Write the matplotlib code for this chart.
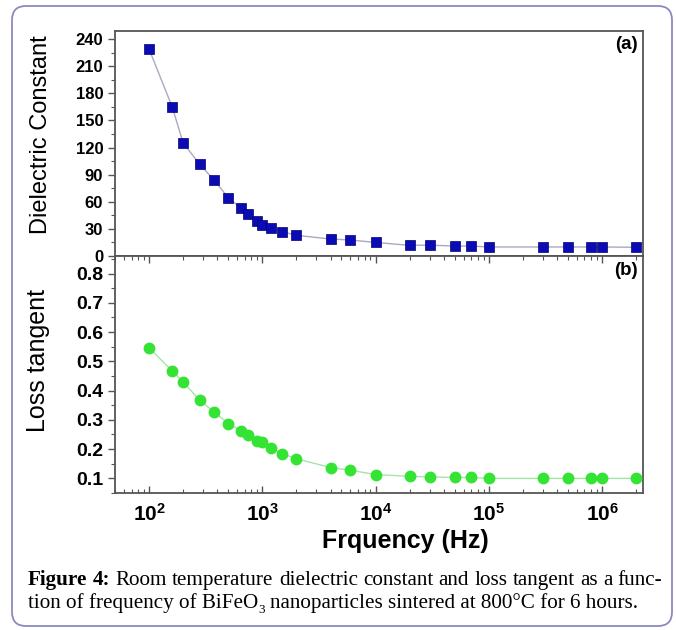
import numpy as np
import matplotlib
matplotlib.use('Agg')
import matplotlib.pyplot as plt
from matplotlib.patches import FancyBboxPatch
from matplotlib.transforms import IdentityTransform
from matplotlib.ticker import MultipleLocator, LogLocator, FuncFormatter, NullFormatter

plt.rcParams['font.family'] = ['Liberation Sans', 'DejaVu Sans']
plt.rcParams['mathtext.fontset'] = 'custom'
plt.rcParams['mathtext.rm'] = 'Liberation Sans'
plt.rcParams['mathtext.bf'] = 'Liberation Sans:bold'

# frequency (Hz)
freq = [100, 160, 200, 280, 375, 500, 650, 750, 900, 1000, 1200, 1500, 2000,
        4000, 6000, 1e4, 2e4, 3e4, 5e4, 7e4, 1e5, 3e5, 5e5, 8e5, 1e6, 2e6]
# dielectric constant
eps = [229, 165, 125, 101.5, 84, 64.6, 52.8, 46, 38.7, 34, 30.6, 26.9, 22.9,
       18.8, 17.7, 15, 11.8, 12, 11, 11, 10, 10, 10, 10, 10, 9.6]
# loss tangent
tan_d = [0.546, 0.467, 0.429, 0.367, 0.327, 0.287, 0.263, 0.247, 0.229, 0.223,
         0.203, 0.184, 0.167, 0.137, 0.128, 0.113, 0.107, 0.105, 0.103, 0.103,
         0.100, 0.100, 0.100, 0.100, 0.100, 0.100]

W, H = 676, 630
fig = plt.figure(figsize=(W / 100, H / 100), dpi=100)


def box(x0, y0, x1, y1):
    return [x0 / W, 1 - y1 / H, (x1 - x0) / W, (y1 - y0) / H]


# outer rounded frame
frame = FancyBboxPatch((12, H - 626), 660, 620, boxstyle='round,pad=0,rounding_size=14',
                       transform=IdentityTransform(), ec='#8a8abf', fc='none', lw=1.3)
fig.add_artist(frame)

ax1 = fig.add_axes(box(115, 31, 643, 256))
ax2 = fig.add_axes(box(115, 256, 643, 493))

spine_c = '#555555'
for ax in (ax1, ax2):
    ax.set_xscale('log')
    ax.set_xlim(50, 2.3e6)
    ax.xaxis.set_major_locator(LogLocator(base=10, numticks=10))
    ax.xaxis.set_minor_locator(LogLocator(base=10, subs=np.arange(2, 10), numticks=30))
    ax.xaxis.set_minor_formatter(NullFormatter())
    for s in ax.spines.values():
        s.set_color(spine_c)
        s.set_linewidth(1.3)
    ax.tick_params(axis='y', which='major', direction='out', length=5, width=1, color=spine_c)
    ax.tick_params(axis='y', which='minor', direction='out', length=3, width=0.8, color=spine_c)

ax1.tick_params(axis='x', which='both', bottom=False, labelbottom=False)
ax2.tick_params(axis='x', which='major', direction='in', top=True, bottom=True,
                length=5, width=1, color=spine_c, pad=7, labelsize=15)
ax2.tick_params(axis='x', which='minor', direction='in', top=True, bottom=True,
                length=3, width=0.8, color=spine_c)
ax2.xaxis.set_major_formatter(FuncFormatter(lambda v, p: r'$\mathbf{10^{%d}}$' % round(np.log10(v))))

ax1.set_ylim(0, 249)
ax1.yaxis.set_major_locator(MultipleLocator(30))
ax1.yaxis.set_minor_locator(MultipleLocator(15))
ax1.yaxis.set_major_formatter(FuncFormatter(lambda v, p: '%d' % v))
ax1.tick_params(axis='y', labelsize=12)

ax2.set_ylim(0.05, 0.86)
ax2.yaxis.set_major_locator(MultipleLocator(0.1))
ax2.yaxis.set_minor_locator(MultipleLocator(0.05))
ax2.yaxis.set_major_formatter(FuncFormatter(lambda v, p: '%.1f' % v))
ax2.tick_params(axis='y', labelsize=14)

for ax in (ax1, ax2):
    for lab in ax.get_yticklabels():
        lab.set_fontweight('bold')

ax1.plot(freq, eps, '-', color='#a9a9c4', lw=1, zorder=2)
ax1.plot(freq, eps, 's', color='#0b0bb5', ms=6.5, mec='#00006e', mew=0.5, zorder=3)
ax2.plot(freq, tan_d, '-', color='#a6e4a6', lw=1, zorder=2)
ax2.plot(freq, tan_d, 'o', color='#34e334', ms=7.5, mec='#34e334', zorder=3)

ax1.text(0.99, 0.94, '(a)', transform=ax1.transAxes, ha='right', va='center',
         fontsize=13.5, fontweight='bold')
ax2.text(0.99, 0.94, '(b)', transform=ax2.transAxes, ha='right', va='center',
         fontsize=13.5, fontweight='bold')

fig.text(41 / W, 1 - 135 / H, 'Dielectric Constant', rotation=90, ha='center', va='center', fontsize=17)
fig.text(38 / W, 1 - 360 / H, 'Loss tangent', rotation=90, ha='center', va='center', fontsize=18)
fig.text(405 / W, 1 - 541 / H, 'Frquency (Hz)', ha='center', va='center', fontsize=18, fontweight='bold')

# caption, first line justified between x=28 and x=662
serif = ['Liberation Serif', 'DejaVu Serif']
cap_fs = 15.2
fig.canvas.draw()
rend = fig.canvas.get_renderer()

line1 = [('Figure', 'bold'), ('4:', 'bold')] + [(w, 'normal') for w in
         'Room temperature dielectric constant and loss tangent as a func-'.split()]
objs = [fig.text(0, 0, w, family=serif, fontsize=cap_fs, fontweight=wt, va='baseline')
        for w, wt in line1]
widths = [o.get_window_extent(renderer=rend).width for o in objs]
gap = (662 - 28 - sum(widths)) / (len(objs) - 1)
x = 28
for o, wd in zip(objs, widths):
    o.set_position((x / W, 1 - 585 / H))
    x += wd + gap

sp = fig.text(0, 0, 'a a', family=serif, fontsize=cap_fs)
sp2 = fig.text(0, 0, 'aa', family=serif, fontsize=cap_fs)
space_w = sp.get_window_extent(renderer=rend).width - sp2.get_window_extent(renderer=rend).width
sp.remove()
sp2.remove()

y2 = 1 - 608 / H
t_a = fig.text(28 / W, y2, 'tion of frequency of BiFeO', family=serif, fontsize=cap_fs, va='baseline')
xa = 28 + t_a.get_window_extent(renderer=rend).width
t_s = fig.text(xa / W, y2 - 5 / H, '3', family=serif, fontsize=cap_fs * 0.62, va='baseline')
xb = xa + t_s.get_window_extent(renderer=rend).width + space_w
fig.text(xb / W, y2, 'nanoparticles sintered at 800°C for 6 hours.', family=serif,
         fontsize=cap_fs, va='baseline')

fig.savefig('out.png', dpi=100)
